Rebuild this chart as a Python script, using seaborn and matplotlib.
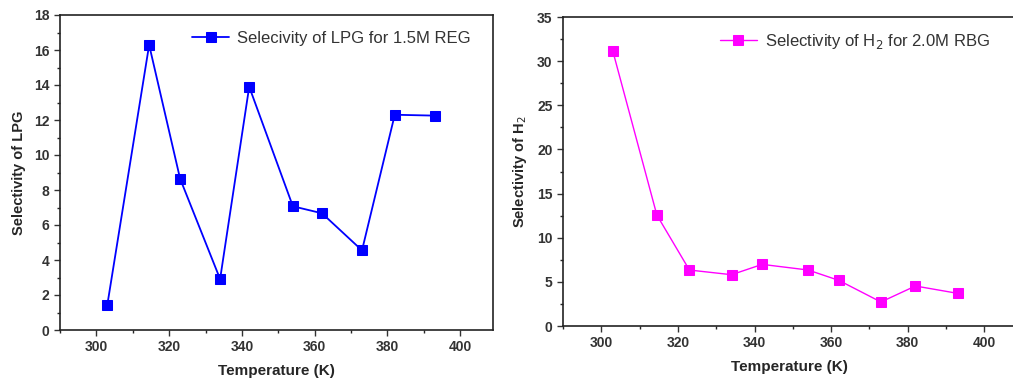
import numpy as np
import pandas as pd
import seaborn as sns
import matplotlib.pyplot as plt
from matplotlib.ticker import MultipleLocator

sns.set_style('ticks')
plt.rcParams['font.family'] = ['Liberation Sans', 'DejaVu Sans']

# data
temp = [303, 314.5, 323, 334, 342, 354, 362, 373, 382, 393]
lpg_sel = [1.43, 16.29, 8.65, 2.91, 13.9, 7.07, 6.67, 4.55, 12.3, 12.25]
h2_sel = [31.15, 12.57, 6.34, 5.81, 6.98, 6.34, 5.17, 2.72, 4.53, 3.70]

df = pd.DataFrame({'Temperature': temp, 'LPG': lpg_sel, 'H2': h2_sel})

fig = plt.figure(figsize=(10.13, 3.79), dpi=100)
ax1 = fig.add_axes([60 / 1013, 1 - 330 / 379, 433 / 1013, 315 / 379])
ax2 = fig.add_axes([563 / 1013, 1 - 326 / 379, 452 / 1013, 309 / 379])

sns.lineplot(data=df, x='Temperature', y='LPG', ax=ax1, color='#0000ff', marker='s',
             markersize=7, markeredgecolor='#0000ff', linewidth=1.3,
             label='Selecivity of LPG for 1.5M REG')
sns.lineplot(data=df, x='Temperature', y='H2', ax=ax2, color='#ff00ff', marker='s',
             markersize=7, markeredgecolor='#ff00ff', linewidth=1.0,
             label='Selectivity of H$_2$ for 2.0M RBG')

ax1.set_xlim(290, 409)
ax1.set_ylim(0, 18)
ax1.yaxis.set_major_locator(MultipleLocator(2))
ax1.yaxis.set_minor_locator(MultipleLocator(1))
ax1.set_ylabel('Selectivity of LPG', fontsize=10.5, fontweight='bold', labelpad=6)

ax2.set_xlim(290, 408)
ax2.set_ylim(0, 35)
ax2.yaxis.set_major_locator(MultipleLocator(5))
ax2.yaxis.set_minor_locator(MultipleLocator(2.5))
ax2.set_ylabel('Selectivity of H$_2$', fontsize=10.5, fontweight='bold', labelpad=6)

for ax in (ax1, ax2):
    ax.xaxis.set_major_locator(MultipleLocator(20))
    ax.xaxis.set_minor_locator(MultipleLocator(10))
    ax.set_xlabel('Temperature (K)', fontsize=11, fontweight='bold', labelpad=7)
    ax.tick_params(which='major', direction='out', length=4, width=1, labelsize=10,
                   colors='#333333')
    ax.tick_params(which='minor', direction='out', length=2.5, width=1)
    for lab in ax.get_xticklabels() + ax.get_yticklabels():
        lab.set_fontweight('bold')
    for sp in ax.spines.values():
        sp.set_linewidth(1.2)
        sp.set_color('#222222')
    leg = ax.legend(loc='upper right', frameon=False, fontsize=12, handlelength=2.2,
                    handletextpad=0.5, borderaxespad=0.5)
    for t in leg.get_texts():
        t.set_color('#333333')

ax1.legend_.set_bbox_to_anchor((0.984, 0.998))
ax2.spines['right'].set_visible(False)
ax2.legend_.set_bbox_to_anchor((0.978, 1.0))

fig.savefig('out.png', dpi=100)
